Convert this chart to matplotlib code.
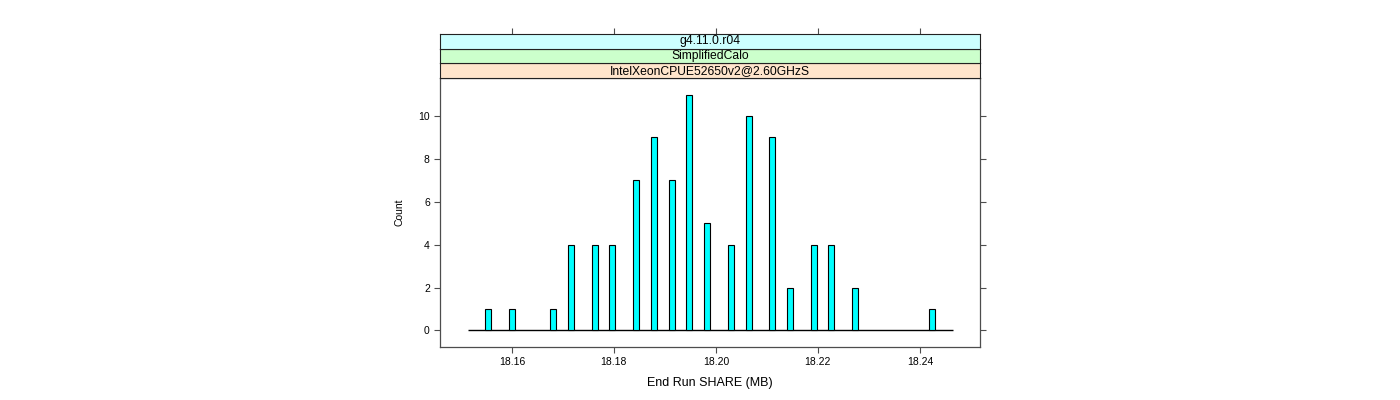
"""
Histogram of End Run SHARE (MB) for one release / test / machine,
drawn in lattice style with three strips above the panel.
"""

import matplotlib.pyplot as plt

OUTPUT_FILE = "out.png"

# Bin centres (MB) and counts
share_mb = [18.15535, 18.16006, 18.16810, 18.17163, 18.17627, 18.17967,
            18.18437, 18.18790, 18.19137, 18.19477, 18.19829, 18.20294,
            18.20641, 18.21104, 18.21457, 18.21916, 18.22261, 18.22731,
            18.24241]
counts = [1, 1, 1, 4, 4, 4, 7, 9, 7, 11, 5, 4, 10, 9, 2, 4, 4, 2, 1]

# Histogram range (zero-height bins show as a flat line)
hist_lo = 18.1514
hist_hi = 18.2465

x_ticks = [18.16, 18.18, 18.20, 18.22, 18.24]
y_ticks = [0, 2, 4, 6, 8, 10]

# Strip labels, top to bottom, with lattice strip colours
strip_labels = ["g4.11.0.r04", "SimplifiedCalo", "IntelXeonCPUE52650v2@2.60GHzS"]
strip_colors = ["#CCFFFF", "#CCFFCC", "#FFE5CC"]

X_LIM = (18.1459, 18.2518)
Y_LIM = (-0.77, 11.77)
FRAME = "#4d4d4d"


def main() -> None:
    plt.rcParams["font.family"] = ["Liberation Sans", "DejaVu Sans"]
    fig = plt.figure(figsize=(14, 4), dpi=100)

    left, width = 440 / 1400, 540 / 1400
    bottom = 53 / 400
    height = 269 / 400
    strip_h = 14.7 / 400

    ax = fig.add_axes([left, bottom, width, height])
    ax.bar(share_mb, counts, width=0.00118, color="#00FFFF",
           edgecolor="black", linewidth=0.8, zorder=3)
    ax.hlines(0, hist_lo, hist_hi, color="black", linewidth=1.0, zorder=2)

    ax.set_xlim(*X_LIM)
    ax.set_ylim(*Y_LIM)
    ax.set_xticks(x_ticks)
    ax.set_xticklabels([f"{v:.2f}" for v in x_ticks])
    ax.set_yticks(y_ticks)
    ax.tick_params(direction="out", length=4.3, width=0.8, color=FRAME,
                   labelsize=7.5, left=True, right=True, top=False,
                   labelright=False, pad=3)
    for spine in ax.spines.values():
        spine.set_color(FRAME)
        spine.set_linewidth(0.9)
    ax.set_xlabel("End Run SHARE (MB)", fontsize=9, labelpad=7)
    ax.set_ylabel("Count", fontsize=7.5, labelpad=10)

    # Strips stacked above the panel, bottom strip first
    y0 = bottom + height
    for i, (label, col) in enumerate(zip(reversed(strip_labels),
                                         reversed(strip_colors))):
        sax = fig.add_axes([left, y0 + i * strip_h, width, strip_h])
        sax.set_facecolor(col)
        sax.set_xlim(*X_LIM)
        sax.set_yticks([])
        sax.text(0.5, 0.5, label, transform=sax.transAxes, ha="center",
                 va="center", fontsize=8.7)
        for spine in sax.spines.values():
            spine.set_color("#222222")
            spine.set_linewidth(0.8)
        if i == len(strip_labels) - 1:
            sax.set_xticks(x_ticks)
            sax.tick_params(axis="x", direction="out", length=4.3, width=0.8,
                            color=FRAME, bottom=False, top=True,
                            labelbottom=False, labeltop=False)
        else:
            sax.set_xticks([])

    fig.savefig(OUTPUT_FILE, dpi=100)
    plt.close(fig)


if __name__ == "__main__":
    main()
